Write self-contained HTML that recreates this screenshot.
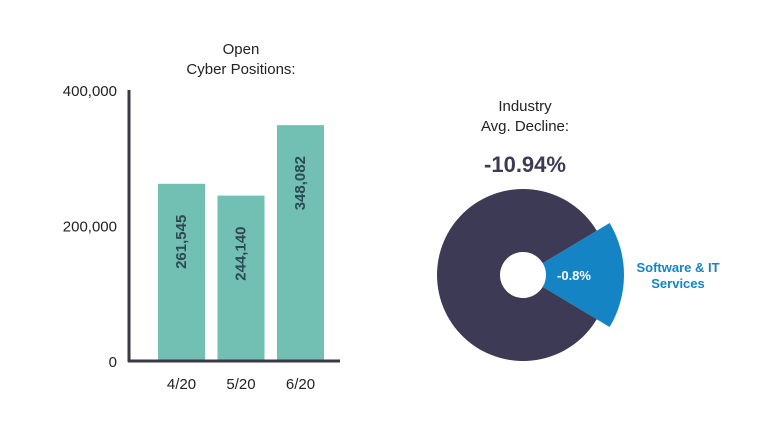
<!DOCTYPE html>
<html><head><meta charset="utf-8"><style>
body{margin:0;background:#fff;}
svg{display:block;font-family:"Liberation Sans",sans-serif;}
</style></head><body>
<svg id="c" width="770" height="422">
<text x="241" y="54" text-anchor="middle" font-size="15" fill="#222">Open</text>
<text x="241" y="74" text-anchor="middle" font-size="15" fill="#222">Cyber Positions:</text>
<text x="525" y="111" text-anchor="middle" font-size="15" fill="#222">Industry</text>
<text x="525" y="131" text-anchor="middle" font-size="15" fill="#222">Avg. Decline:</text>
<text x="525" y="172" text-anchor="middle" font-size="22" font-weight="bold" fill="#3d3a55">-10.94%</text>
<g id="bars"></g>
<g id="pie"></g>
</svg>
<script>
const categories=["4/20","5/20","6/20"];
const values=[261545,244140,348082];
const yTicks=[0,200000,400000];
const yTickLabels=["0","200,000","400,000"];
const sliceNames=["Software & IT Services","Other industries"];
const sliceShares=[0.172,0.828];
const sliceLabels=["-0.8%",""];

const NS="http://www.w3.org/2000/svg";
function mk(t,a,p){const e=document.createElementNS(NS,t);for(const k in a)e.setAttribute(k,a[k]);p.appendChild(e);return e;}
const bars=document.getElementById('bars');
const y0=361,y1=90;
const yS=v=>y0-(v/400000)*(y0-y1);
const xS=i=>158+i*59.5;
const bw=47;
values.forEach((v,i)=>{
  const r=mk('rect',{x:xS(i),y:yS(v),width:bw,height:y0-yS(v),fill:'#72c0b4'},bars);
  
  
  const cx=xS(i)+bw/2, cy=yS(v)+58;
  const t=mk('text',{x:cx,y:cy,transform:`rotate(-90 ${cx} ${cy})`,'text-anchor':'middle','dominant-baseline':'central','font-size':15,'font-weight':'bold',fill:'#2c4a52'},bars);
  t.textContent=v.toLocaleString('en-US');
  
  
  const l=mk('text',{x:cx,y:389,'text-anchor':'middle','font-size':15,fill:'#222'},bars);
  l.textContent=categories[i];
  
  
});
yTicks.forEach((v,i)=>{
  const t=mk('text',{x:117,y:yS(v)+6,'text-anchor':'end','font-size':15,fill:'#222'},bars);
  t.textContent=yTickLabels[i];
  
  
});
const ya=mk('line',{x1:129,y1:90,x2:129,y2:362,stroke:'#3a3a45','stroke-width':3},bars);


const xa=mk('line',{x1:128,y1:361,x2:340,y2:361,stroke:'#3a3a45','stroke-width':3},bars);



const pie=document.getElementById('pie');
const pcx=523,pcy=275,ri=23;
function arc(a0,a1,ro){
  const p=(a,r)=>[pcx+r*Math.cos(a),pcy+r*Math.sin(a)];
  const large=(a1-a0)>Math.PI?1:0;
  const [x0,y0o]=p(a0,ro),[x1,y1o]=p(a1,ro),[x2,y2]=p(a1,ri),[x3,y3]=p(a0,ri);
  return `M${x0},${y0o}A${ro},${ro} 0 ${large} 1 ${x1},${y1o}L${x2},${y2}A${ri},${ri} 0 ${large} 0 ${x3},${y3}Z`;
}
const colors=['#1584c4','#3d3a55'];
const radii=[101,86];
let start=-sliceShares[0]*Math.PI;
sliceShares.forEach((s,i)=>{
  const end=start+s*2*Math.PI;
  const pa=mk('path',{d:arc(start,end,radii[i]),fill:colors[i]},pie);
  
  
  start=end;
});
const sl=mk('text',{x:574,y:280,'text-anchor':'middle','font-size':13,'font-weight':'bold',fill:'#fff'},pie);
sl.textContent=sliceLabels[0];


const n1=mk('text',{x:678,y:272,'text-anchor':'middle','font-size':13,'font-weight':'bold',fill:'#1584c4'},pie);
n1.textContent='Software & IT';


const n2=mk('text',{x:678,y:288,'text-anchor':'middle','font-size':13,'font-weight':'bold',fill:'#1584c4'},pie);
n2.textContent='Services';


</script>
</body></html>
